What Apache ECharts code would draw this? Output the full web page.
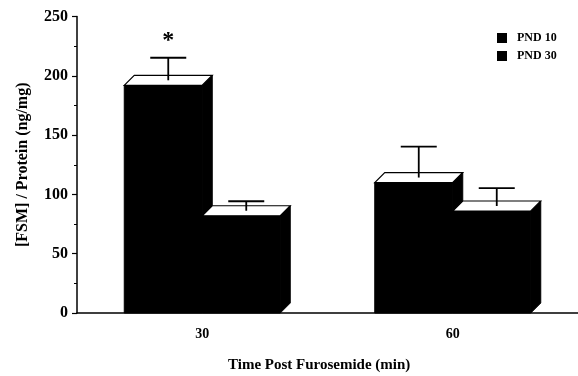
<!DOCTYPE html>
<html>
<head>
<meta charset="utf-8">
<script src="https://cdn.jsdelivr.net/npm/echarts@6/dist/echarts.min.js"></script>
<style>html,body{margin:0;padding:0;background:#fff}#c{width:578px;height:376px}</style>
</head>
<body>
<div id="c"></div>
<script>
const categories = ['30', '60'];
const seriesNames = ['PND 10', 'PND 30'];
const pnd10Mean = [192, 110];
const pnd10Sem = [19, 26];
const pnd30Mean = [82, 86];
const pnd30Sem = [8, 15];
const pnd10Marks = ['*', ''];
const pnd30Marks = ['', ''];

const FONT = '"Liberation Serif", "Times New Roman", serif';
const DEPTH = 10;
const BAR_W = 78;
const HALF_GAP = 0;

function makeRender(idx) {
  return function (params, api) {
    const cat = api.value(0);
    const mean = api.value(1);
    const sem = api.value(2);
    const base = api.coord([cat, 0]);
    const c = base[0];
    const y0 = base[1];
    const yTop = api.coord([cat, mean])[1];
    const x0 = idx === 0 ? c - HALF_GAP - BAR_W : c + HALF_GAP;
    const x1 = x0 + BAR_W;
    const D = DEPTH;
    const ex = (x0 + x1) / 2 + D / 2;
    const eyBase = yTop - D / 2;
    const eyTop = api.coord([cat, mean + sem])[1] - D / 2;
    const marks = idx === 0 ? pnd10Marks : pnd30Marks;
    const mark = marks[params.dataIndex];
    const children = [
      { type: 'polygon', shape: { points: [[x1, y0], [x1 + D, y0 - D], [x1 + D, yTop - D], [x1, yTop]] },
        style: { fill: '#000', stroke: '#000', lineWidth: 1 } },
      { type: 'rect', shape: { x: x0, y: yTop, width: BAR_W, height: y0 - yTop },
        style: { fill: '#000', stroke: '#000', lineWidth: 1 } },
      { type: 'polygon', shape: { points: [[x0, yTop], [x1, yTop], [x1 + D, yTop - D], [x0 + D, yTop - D]] },
        style: { fill: '#fff', stroke: '#000', lineWidth: 1.2 } },
      { type: 'line', shape: { x1: ex, y1: eyBase, x2: ex, y2: eyTop },
        style: { stroke: '#000', lineWidth: 1.8 } },
      { type: 'line', shape: { x1: ex - 18, y1: eyTop, x2: ex + 18, y2: eyTop },
        style: { stroke: '#000', lineWidth: 1.8 } }
    ];
    if (mark) {
      children.push({ type: 'text', style: { text: mark, x: ex, y: eyTop - 17, align: 'center', verticalAlign: 'middle',
        font: 'bold 24px ' + FONT, fill: '#000' } });
    }
    return { type: 'group', children: children };
  };
}

const chart = echarts.init(document.getElementById('c'), null, { renderer: 'canvas' });
chart.setOption({
  animation: false,
  backgroundColor: '#fff',
  color: ['#000', '#000'],
  grid: { left: 77, top: 16.5, width: 502, height: 296.5 },
  legend: {
    data: seriesNames.map(n => ({ name: n, icon: 'rect' })),
    orient: 'vertical', left: 492, top: 27, itemWidth: 10, itemHeight: 10, itemGap: 6,
    textStyle: { fontFamily: FONT, fontWeight: 'bold', fontSize: 12, color: '#000', padding: [0, 0, 0, 5] }
  },
  xAxis: {
    type: 'category', data: categories,
    axisLine: { lineStyle: { color: '#000', width: 1.5 } },
    axisTick: { show: false },
    axisLabel: { margin: 14, fontFamily: FONT, fontWeight: 'bold', fontSize: 14, color: '#000' }
  },
  yAxis: {
    type: 'value', min: 0, max: 250, interval: 50,
    name: '[FSM] / Protein (ng/mg)', nameLocation: 'middle', nameGap: 46,
    nameTextStyle: { fontFamily: FONT, fontWeight: 'bold', fontSize: 16, color: '#000' },
    axisLine: { show: true, lineStyle: { color: '#000', width: 1.5 } },
    axisTick: { show: true, length: 5, lineStyle: { color: '#000', width: 1.2 } },
    minorTick: { show: true, splitNumber: 2, length: 3, lineStyle: { color: '#000' } },
    splitLine: { show: false },
    axisLabel: { margin: 9, fontFamily: FONT, fontWeight: 'bold', fontSize: 16, color: '#000' }
  },
  graphic: [{
    type: 'text', left: 228, top: 358,
    style: { text: 'Time Post Furosemide (min)', font: 'bold 15px ' + FONT, fill: '#000' }
  }],
  series: [
    { type: 'custom', name: seriesNames[0], renderItem: makeRender(0), encode: { x: 0, y: 1 },
      itemStyle: { color: '#000' },
      data: categories.map((c, i) => [i, pnd10Mean[i], pnd10Sem[i]]) },
    { type: 'custom', name: seriesNames[1], renderItem: makeRender(1), encode: { x: 0, y: 1 },
      itemStyle: { color: '#000' },
      data: categories.map((c, i) => [i, pnd30Mean[i], pnd30Sem[i]]) }
  ]
});
</script>
</body>
</html>
